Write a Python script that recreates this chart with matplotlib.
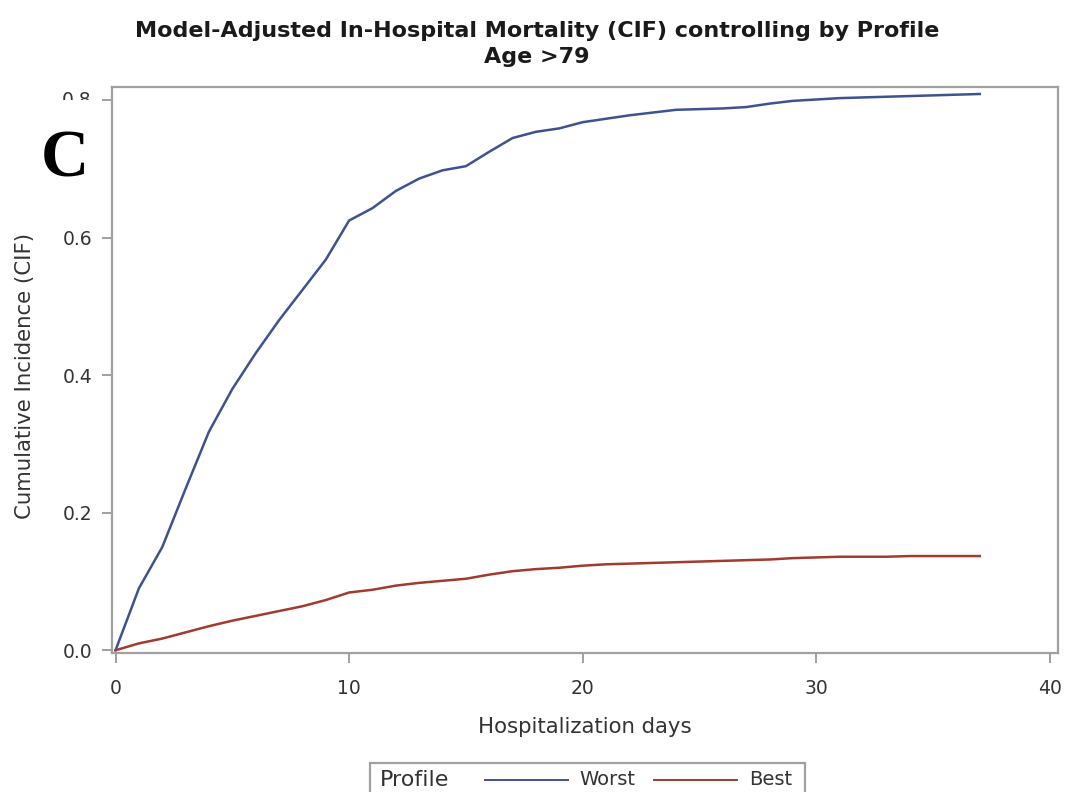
import matplotlib
matplotlib.use("Agg")
import matplotlib.pyplot as plt
from matplotlib.lines import Line2D
from matplotlib.offsetbox import AnchoredOffsetbox, HPacker, TextArea, DrawingArea
from matplotlib.transforms import Bbox, TransformedBbox

# Model-adjusted cumulative incidence by hospitalization day
days = list(range(0, 38))
worst = [0.000, 0.090, 0.150, 0.235, 0.318, 0.380, 0.432, 0.480, 0.524, 0.568,
         0.625, 0.643, 0.668, 0.686, 0.698, 0.704, 0.725, 0.745, 0.754, 0.759,
         0.768, 0.773, 0.778, 0.782, 0.786, 0.787, 0.788, 0.790, 0.795, 0.799,
         0.801, 0.803, 0.804, 0.805, 0.806, 0.807, 0.808, 0.809]
best = [0.000, 0.010, 0.017, 0.026, 0.035, 0.043, 0.050, 0.057, 0.064, 0.073,
        0.084, 0.088, 0.094, 0.098, 0.101, 0.104, 0.110, 0.115, 0.118, 0.120,
        0.123, 0.125, 0.126, 0.127, 0.128, 0.129, 0.130, 0.131, 0.132, 0.134,
        0.135, 0.136, 0.136, 0.136, 0.137, 0.137, 0.137, 0.137]
series_labels = ["Worst", "Best"]
x_ticks = [0, 10, 20, 30, 40]
y_ticks = [0.0, 0.2, 0.4, 0.6, 0.8]
y_tick_labels = ["0.0", "0.2", "0.4", "0.6", ""]

title = "Model-Adjusted In-Hospital Mortality (CIF) controlling by Profile\nAge >79"

plt.rcParams["font.family"] = ["DejaVu Sans"]

BLUE = "#3f5290"
RED = "#A23A2E"
SPINE = "#a0a0a0"
TXT = "#333333"
PX = 0.72  # points per pixel at 100 dpi

fig = plt.figure(figsize=(10.67, 7.92), dpi=100)
ax = fig.add_axes([0.105, 0.1755, 0.8866, 0.7145])

ax.plot(days, worst, color=BLUE, lw=1.8, label=series_labels[0])
ax.plot(days, best, color=RED, lw=1.8, label=series_labels[1])

ax.set_xlim(-0.15, 40.35)
ax.set_ylim(-0.004, 0.819)
ax.set_xticks(x_ticks)
ax.set_xticklabels([str(t) for t in x_ticks])
ax.set_yticks(y_ticks)
ax.set_yticklabels(y_tick_labels)

for s in ax.spines.values():
    s.set_color(SPINE)
    s.set_linewidth(1.6)
ax.tick_params(axis="both", colors=SPINE, labelcolor=TXT, labelsize=13.5,
               width=1.4, length=7)
ax.tick_params(axis="x", pad=12)
ax.tick_params(axis="y", pad=7)

# top tick label sits partly beyond the plotting frame and is cut off below its midline
y08 = ax.transData.transform((0, 0.8))[1]
lab08 = ax.text(-0.0215, 0.8, "0.8", transform=ax.get_yaxis_transform(),
                ha="right", va="center", fontsize=13.5, color=TXT)
lab08.set_clip_on(True)
lab08.set_clip_box(TransformedBbox(Bbox([[0, y08 / 792.0], [1, 1]]), fig.transFigure))

ax.set_xlabel("Hospitalization days", fontsize=15.3, color=TXT)
ax.xaxis.label.set_va("center")
ax.xaxis.set_label_coords(0.5, -0.131)
ax.set_ylabel("Cumulative Incidence (CIF)", fontsize=15.3, color=TXT)
ax.yaxis.label.set_va("center")
ax.yaxis.set_label_coords(-0.092, 0.49)

fig.text(0.503, 0.9735, title, ha="center", va="top", fontsize=16,
         fontweight="bold", linespacing=1.4, color="#1a1a1a")

fig.text(0.061, 0.798, "C", ha="center", va="center", fontsize=48,
         fontweight="bold", family=["Liberation Serif", "DejaVu Serif"], color="black")

# horizontal legend with the group title on the left
def spacer(px):
    return DrawingArea(px * PX, 1, 0, 0)

def line_sample(color, px=83):
    da = DrawingArea(px * PX, 10, 0, 0)
    da.add_artist(Line2D([0, px * PX], [5, 5], color=color, lw=1.4))
    return da

items = [spacer(3),
         TextArea("Profile", textprops=dict(fontsize=16, color=TXT)),
         spacer(36), line_sample(BLUE), spacer(11),
         TextArea(series_labels[0], textprops=dict(fontsize=14, color=TXT)),
         spacer(19), line_sample(RED), spacer(12),
         TextArea(series_labels[1], textprops=dict(fontsize=14, color=TXT)),
         spacer(6)]
row = HPacker(children=items, align="center", pad=0, sep=0)
box = AnchoredOffsetbox(loc="upper left", child=row, pad=0.5, borderpad=0,
                        frameon=True, bbox_to_anchor=(370 / 1067, 1 - 763 / 792),
                        bbox_transform=fig.transFigure)
box.patch.set_edgecolor(SPINE)
box.patch.set_linewidth(1.6)
box.patch.set_boxstyle("square", pad=0)
fig.add_artist(box)

fig.savefig("out.png", dpi=100)
